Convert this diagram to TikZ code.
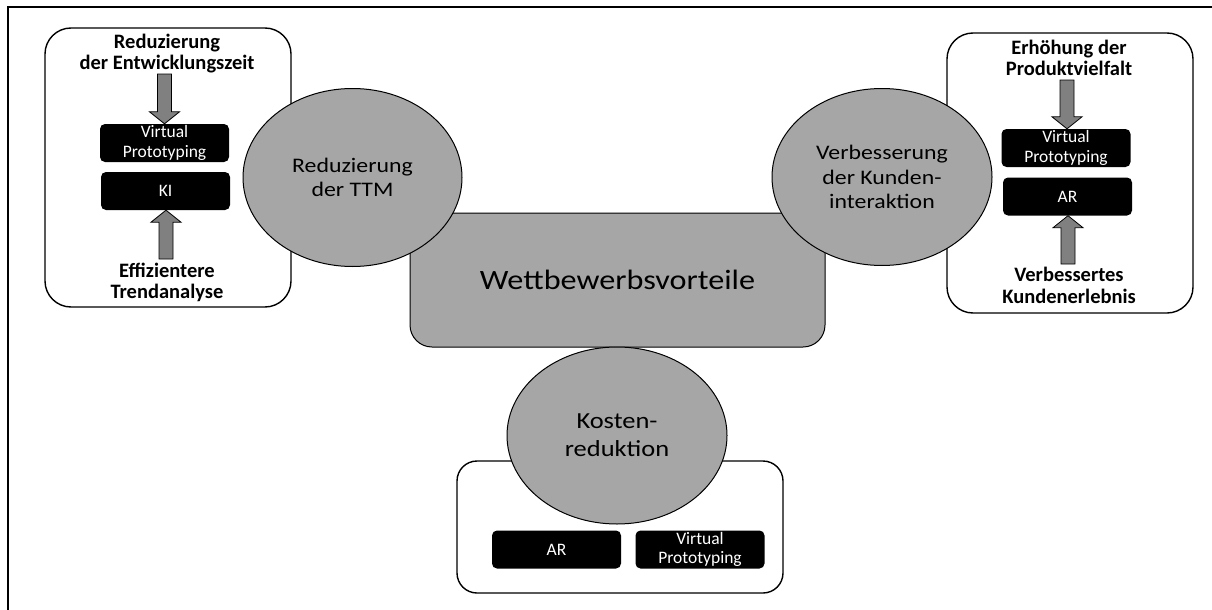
\documentclass[tikz,border=0pt]{standalone}
\usepackage{fontspec}
\setmainfont{Carlito}
\newfontfamily\widefont{Carlito}[FakeStretch=1.15]
\usetikzlibrary{shapes.geometric,calc}
\definecolor{midgray}{HTML}{A6A6A6}
\definecolor{arrgray}{HTML}{808080}
\tikzset{
 panel/.style={draw=black, line width=1.4pt, fill=white, rounded corners=26pt, inner sep=0pt},
 bubble/.style={ellipse, draw=black, line width=1pt, fill=midgray, inner sep=0pt, minimum width=219pt, minimum height=178pt, align=center, font={\widefont\fontsize{20.7}{24.5}\selectfont}},
 centerbox/.style={draw=black, line width=1pt, fill=midgray, rounded corners=22pt, inner sep=0pt, minimum width=415pt, minimum height=134pt, font={\widefont\fontsize{28}{32}\selectfont}},
 tech/.style={rounded corners=5pt, fill=black, text=white, minimum width=129pt, minimum height=38pt, inner sep=0pt, align=center, font={\fontsize{17.5}{19.5}\selectfont}},
 headline/.style={align=center, inner sep=0pt, font={\bfseries\fontsize{20.5}{21.5}\selectfont}},
 barrow/.style={draw=black, line width=0.8pt, fill=arrgray},
}
\newcommand{\blockarrow}[3]{%
 \draw[barrow] let \p1=(#1), \p2=(#2) in
  (\x1-7pt,\y1) -- (\x1-7pt,\y2+#3*12pt) -- (\x1-15pt,\y2+#3*12pt) -- (\x1,\y2) -- (\x1+15pt,\y2+#3*12pt) -- (\x1+7pt,\y2+#3*12pt) -- (\x1+7pt,\y1) -- cycle;}
\begin{document}
\begin{tikzpicture}[x=1pt,y=-1pt]
\useasboundingbox (0,0) rectangle (1212,610);
\draw[line width=2pt] (7.5,610) -- (7.5,7.5) -- (1212,7.5);

% panels
\node[panel, minimum width=246pt, minimum height=279pt] (pL) at (168,167.5) {};
\node[panel, minimum width=246pt, minimum height=280pt] (pR) at (1070,173) {};
\node[panel, rounded corners=20pt, minimum width=326pt, minimum height=132pt] (pB) at (620,527) {};

% center
\node[centerbox] (wb) at (617.5,280) {Wettbewerbsvorteile};

% bubbles
\node[bubble] (ttm) at (352.5,177.5) {Reduzierung\\der TTM};
\node[bubble, minimum width=220pt, minimum height=177pt] (kunde) at (882,177) {Verbesserung\\der Kunden-\\interaktion};
\node[bubble, minimum width=220pt, minimum height=177pt, font={\widefont\fontsize{23}{28}\selectfont}] (kosten) at (617,435.5) {Kosten-\\reduktion};

% left panel content
\node[headline] (hL1) at (167,53.5) {Reduzierung\\der Entwicklungszeit};
\node[tech] (vpL) at (164.5,143) {Virtual\\Prototyping};
\node[tech] (kiL) at (165.5,191) {KI};
\node[headline] (hL2) at (167,282.5) {Effizientere\\Trendanalyse};
\coordinate (aL1) at (164.5,74);
\coordinate (aL2) at (166,259);
\blockarrow{aL1}{vpL.north}{1}
\blockarrow{aL2}{kiL.south}{-1}

% right panel content
\node[headline] (hR1) at (1069,58) {Erhöhung der\\Produktvielfalt};
\node[tech] (vpR) at (1066,148) {Virtual\\Prototyping};
\node[tech] (arR) at (1067.5,196.5) {AR};
\node[headline] (hR2) at (1069,285.5) {Verbessertes\\Kundenerlebnis};
\coordinate (aR1) at (1067,80);
\coordinate (aR2) at (1068,264);
\blockarrow{aR1}{vpR.north}{1}
\blockarrow{aR2}{arR.south}{-1}

% bottom panel content
\node[tech] (arB) at (556.5,549.5) {AR};
\node[tech] (vpB) at (700,549.5) {Virtual\\Prototyping};
\end{tikzpicture}
\end{document}
